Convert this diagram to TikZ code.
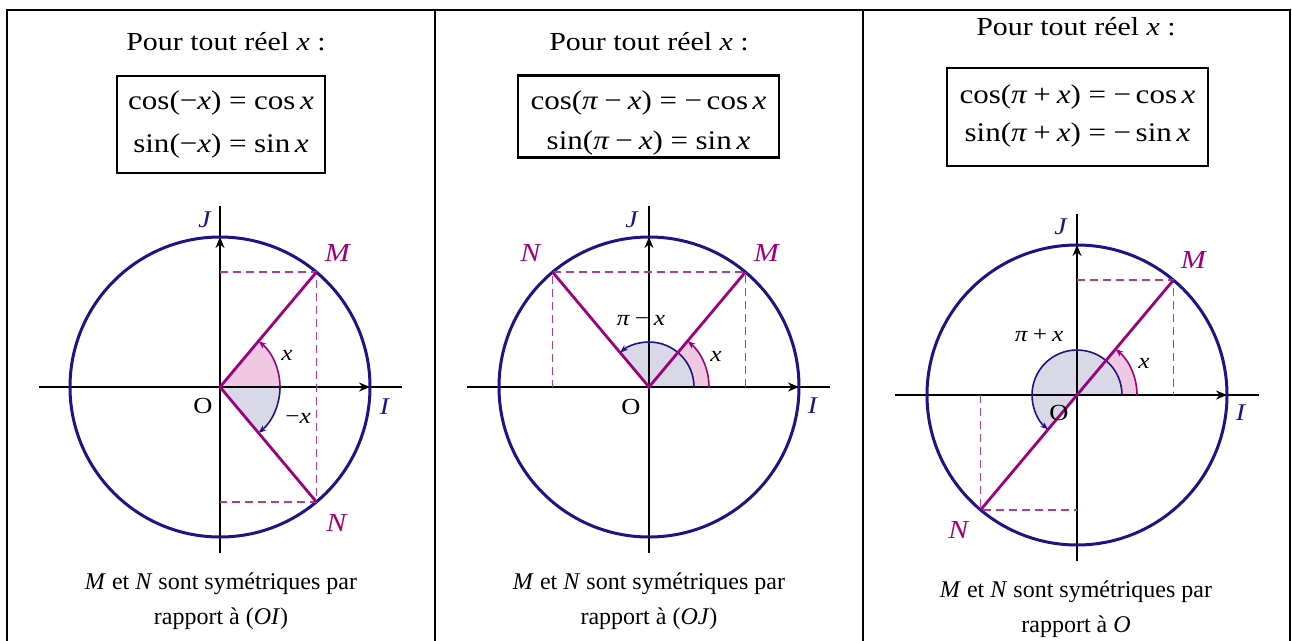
\documentclass[tikz,border=0pt]{standalone}
\usepackage{fontspec}
\setmainfont{Liberation Serif}
\newfontfamily\widefont{Liberation Serif}[FakeStretch=1.15]
\usetikzlibrary{arrows.meta}
\definecolor{cercle}{RGB}{30,20,130}
\definecolor{violet}{RGB}{155,0,125}
\definecolor{dashc}{RGB}{175,60,150}
\definecolor{rose}{RGB}{240,200,226}
\definecolor{lav}{RGB}{216,216,230}
\newcommand{\vi}[1]{\textit{#1}}
\newcommand{\bsp}{\hspace{0.28em}}
\newcommand{\msp}{\hspace{0.22em}}
\newcommand{\tsp}{\hspace{0.17em}}
\tikzset{
  frame/.style={line width=2.4pt, line cap=rect},
  axis/.style={line width=2.4pt, black},
  axarrow/.style={line width=2.4pt, black, -{Stealth[length=11pt,width=9pt]}},
  circ/.style={line width=3pt, cercle},
  seg/.style={line width=2.8pt, violet},
  dashln/.style={line width=1.2pt, dashc, dash pattern=on 8pt off 5pt},
  pinkarc/.style={line width=1.6pt, violet, -{Stealth[length=8pt,width=6pt]}},
  bluearc/.style={line width=1.6pt, cercle, -{Stealth[length=8pt,width=6pt]}},
  ptlbl/.style={text=violet, font=\widefont\fontsize{26}{30}\selectfont},
  axlbl/.style={text=cercle, font=\widefont\fontsize{24}{28}\selectfont},
  olbl/.style={font=\widefont\fontsize{23}{28}\selectfont},
  anglbl/.style={font=\widefont\fontsize{22}{26}\selectfont},
  formbox/.style={draw, line width=2.2pt, inner sep=0pt},
  formtxt/.style={align=center, inner sep=0pt, font=\widefont\fontsize{27}{32}\selectfont},
  title/.style={align=center, font=\widefont\fontsize{26}{30}\selectfont},
  txt/.style={align=center, font=\fontsize{24}{35}\selectfont}
}
\begin{document}
\begin{tikzpicture}[x=1pt,y=1pt]
\useasboundingbox (0,0) rectangle (1292,-640);
% frame
\draw[frame] (7,-644) -- (7,-10) -- (1290,-10) -- (1290,-644);
\draw[frame] (435,-10) -- (435,-644);
\draw[frame] (863,-10) -- (863,-644);

% ---------- Panel 1 ----------
\node[title] (t1) at (226,-42) {Pour tout réel \vi{x} :};
\node[formbox, minimum width=208pt, minimum height=97pt] (f1) at (221,-124.5) {};
\node[formtxt] (f1t) at (221,-125) {cos(−\vi{x})\bsp=\bsp cos\tsp\vi{x}\\[11pt]sin(−\vi{x})\bsp=\bsp sin\tsp\vi{x}};
\node[txt] (b1) at (221,-601) {\vi{M} et \vi{N} sont symétriques par\\rapport à (\vi{OI})};
\begin{scope}[shift={(220,-387)}]
  \coordinate (O1) at (0,0);
  \coordinate (M1) at (50:150);
  \coordinate (N1) at (-50:150);
  \coordinate (I1) at (150,0);
  \coordinate (J1) at (0,150);
  \coordinate (xa1) at (-181,0);
  \coordinate (xb1) at (182,0);
  \coordinate (ya1) at (0,-166);
  \coordinate (yb1) at (0,181);
  \fill[rose] (O1) -- (60,0) arc[start angle=0,end angle=50,radius=60] -- cycle;
  \fill[lav] (O1) -- (60,0) arc[start angle=0,end angle=-50,radius=60] -- cycle;
  \draw[axis] (xa1) -- (xb1);
  \draw[axis] (ya1) -- (yb1);
  \draw[axarrow] (O1) -- (I1);
  \draw[axarrow] (O1) -- (J1);
  \draw[circ] (O1) circle[radius=150];
  \draw[dashln] (O1|-M1) -- (M1) -- (N1) -- (O1|-N1);
  \draw[pinkarc] (60,0) arc[start angle=0,end angle=50,radius=60];
  \draw[bluearc] (60,0) arc[start angle=0,end angle=-50,radius=60];
  \draw[seg] (M1) -- (O1) -- (N1);
  \node[ptlbl] (lM1) at (118,134) {\vi{M}};
  \node[ptlbl] (lN1) at (117,-136) {\vi{N}};
  \node[axlbl] (lJ1) at (-15,167) {\vi{J}};
  \node[axlbl] (lI1) at (165,-20) {\vi{I}};
  \node[olbl] (lO1) at (-17,-19) {O};
  \node[anglbl] (lx1) at (67,32) {\vi{x}};
  \node[anglbl] (lmx1) at (78,-31) {−\vi{x}};
\end{scope}

% ---------- Panel 2 ----------
\node[title] (t2) at (649,-42) {Pour tout réel \vi{x} :};
\node[formbox, minimum width=261pt, minimum height=82pt] (f2) at (648.5,-116.5) {};
\node[formtxt] (f2t) at (648.5,-123) {cos(\vi{π}\msp−\msp\vi{x})\bsp=\bsp−\tsp cos\tsp\vi{x}\\[8pt]sin(\vi{π}\msp−\msp\vi{x})\bsp=\bsp sin\tsp\vi{x}\hspace{24pt}};
\node[txt] (b2) at (649,-601) {\vi{M} et \vi{N} sont symétriques par\\rapport à (\vi{OJ})};
\begin{scope}[shift={(649,-387)}]
  \coordinate (O2) at (0,0);
  \coordinate (M2) at (50:150);
  \coordinate (N2) at (130:150);
  \coordinate (I2) at (150,0);
  \coordinate (J2) at (0,150);
  \coordinate (xa2) at (-182,0);
  \coordinate (xb2) at (181,0);
  \coordinate (ya2) at (0,-166);
  \coordinate (yb2) at (0,181);
  \fill[rose] (O2) -- (60,0) arc[start angle=0,end angle=50,radius=60] -- cycle;
  \fill[lav] (O2) -- (45,0) arc[start angle=0,end angle=130,radius=45] -- cycle;
  \draw[axis] (xa2) -- (xb2);
  \draw[axis] (ya2) -- (yb2);
  \draw[axarrow] (O2) -- (I2);
  \draw[axarrow] (O2) -- (J2);
  \draw[circ] (O2) circle[radius=150];
  \draw[dashln] (M2|-O2) -- (M2) -- (N2) -- (N2|-O2);
  \draw[pinkarc] (60,0) arc[start angle=0,end angle=50,radius=60];
  \draw[bluearc] (45,0) arc[start angle=0,end angle=130,radius=45];
  \draw[seg] (M2) -- (O2) -- (N2);
  \node[ptlbl] (lM2) at (118,134) {\vi{M}};
  \node[ptlbl] (lN2) at (-118,134) {\vi{N}};
  \node[axlbl] (lJ2) at (-17,167) {\vi{J}};
  \node[axlbl] (lI2) at (164,-19) {\vi{I}};
  \node[olbl] (lO2) at (-18,-20) {O};
  \node[anglbl] (lx2) at (67,31) {\vi{x}};
  \node[anglbl] (lpx2) at (-8,66) {\vi{π}\msp−\msp\vi{x}};
\end{scope}

% ---------- Panel 3 ----------
\node[title] (t3) at (1076,-27) {Pour tout réel \vi{x} :};
\node[formbox, minimum width=261pt, minimum height=98pt] (f3) at (1077.5,-117) {};
\node[formtxt] (f3t) at (1077.5,-116) {cos(\vi{π}\msp+\msp\vi{x})\bsp=\bsp−\tsp cos\tsp\vi{x}\\[6pt]sin(\vi{π}\msp+\msp\vi{x})\bsp=\bsp−\tsp sin\tsp\vi{x}};
\node[txt] (b3) at (1076,-609) {\vi{M} et \vi{N} sont symétriques par\\rapport à \vi{O}};
\begin{scope}[shift={(1077,-395)}]
  \coordinate (O3) at (0,0);
  \coordinate (M3) at (50:150);
  \coordinate (N3) at (230:150);
  \coordinate (I3) at (150,0);
  \coordinate (J3) at (0,150);
  \coordinate (xa3) at (-182,0);
  \coordinate (xb3) at (182,0);
  \coordinate (ya3) at (0,-166);
  \coordinate (yb3) at (0,181);
  \fill[rose] (O3) -- (60,0) arc[start angle=0,end angle=50,radius=60] -- cycle;
  \fill[lav] (O3) -- (45,0) arc[start angle=0,end angle=230,radius=45] -- cycle;
  \draw[axis] (xa3) -- (xb3);
  \draw[axis] (ya3) -- (yb3);
  \draw[axarrow] (O3) -- (I3);
  \draw[axarrow] (O3) -- (J3);
  \draw[circ] (O3) circle[radius=150];
  \draw[dashln] (O3|-M3) -- (M3) -- (M3|-O3);
  \draw[dashln] (N3|-O3) -- (N3) -- (O3|-N3);
  \draw[pinkarc] (60,0) arc[start angle=0,end angle=50,radius=60];
  \draw[bluearc] (45,0) arc[start angle=0,end angle=230,radius=45];
  \draw[seg] (M3) -- (N3);
  \node[ptlbl] (lM3) at (117,135) {\vi{M}};
  \node[ptlbl] (lN3) at (-118,-135) {\vi{N}};
  \node[axlbl] (lJ3) at (-16,168) {\vi{J}};
  \node[axlbl] (lI3) at (164,-18) {\vi{I}};
  \node[olbl] (lO3) at (-18,-18) {O};
  \node[anglbl] (lx3) at (67,32) {\vi{x}};
  \node[anglbl] (lpx3) at (-38,60) {\vi{π}\msp+\msp\vi{x}};
\end{scope}
\end{tikzpicture}
\end{document}
